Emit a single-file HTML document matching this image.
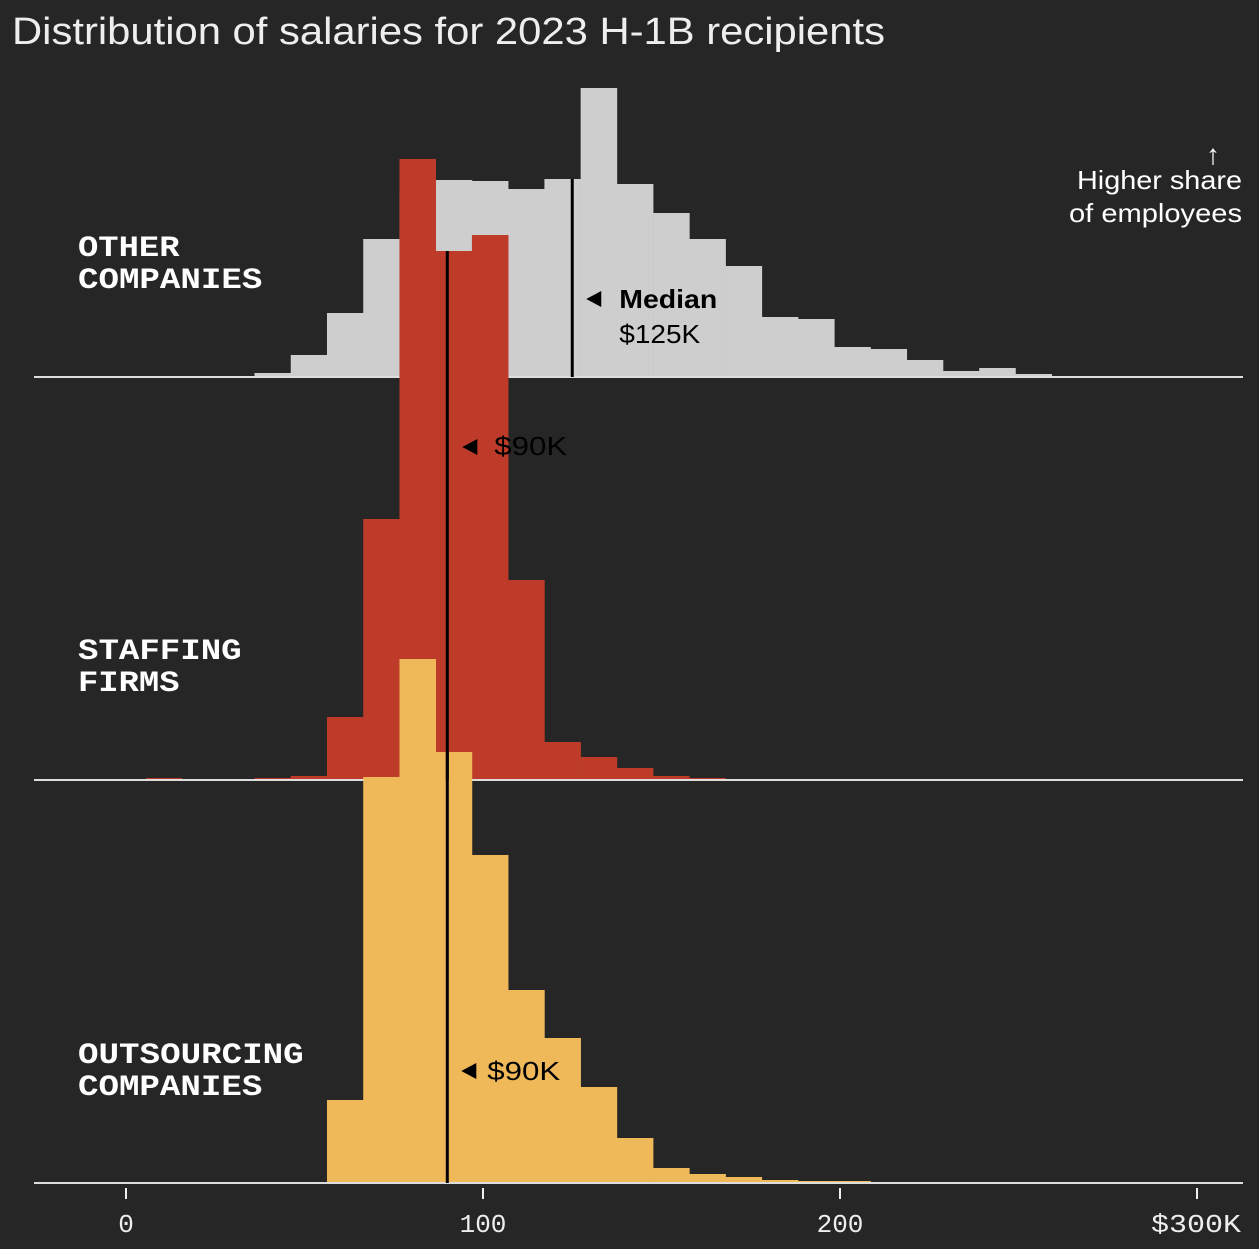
<!DOCTYPE html>
<html><head><meta charset="utf-8"><style>
html,body{margin:0;padding:0;background:#262626;}
svg{display:block;}
</style></head><body>
<svg id="chart" width="1259" height="1249" xmlns="http://www.w3.org/2000/svg" font-family="'Liberation Sans', sans-serif">
<rect width="1259" height="1249" fill="#262626"/>
<text x="12" y="44" font-size="38" fill="#eeeeee" textLength="873" lengthAdjust="spacingAndGlyphs">Distribution of salaries for 2023 H-1B recipients</text>
<g id="layers"></g>
<text x="1213" y="164" font-size="28" fill="#fff" text-anchor="middle">↑</text>
<text x="1242" y="189" font-size="26" fill="#fff" text-anchor="end" textLength="165" lengthAdjust="spacingAndGlyphs">Higher share</text>
<text x="1242" y="222" font-size="26" fill="#fff" text-anchor="end" textLength="173" lengthAdjust="spacingAndGlyphs">of employees</text>
</svg>
<script>
const binStart = -4.6;
const binWidth = 10.15;
const groupNames = ["OTHER|COMPANIES", "STAFFING|FIRMS", "OUTSOURCING|COMPANIES"];
const otherValues = [0,0.1,0,0.1,0.4,2.2,6.4,13.8,18.5,19.7,19.6,18.8,19.8,28.9,19.3,16.4,13.8,11.1,6.0,5.8,3.0,2.8,1.7,0.6,0.9,0.3,0.1,0.1,0.05,0.05];
const staffingValues = [0.1,0.2,0.1,0.1,0.2,0.4,6.3,26.1,62.1,52.9,54.5,20.0,3.8,2.3,1.2,0.4,0.2,0.1,0.1,0,0,0,0,0.1,0,0,0,0,0,0];
const outsourcingValues = [0,0.1,0,0,0,0,8.3,40.6,52.4,43.1,32.8,19.3,14.5,9.6,4.5,1.5,0.9,0.6,0.3,0.2,0.2,0.1,0,0,0,0,0,0,0,0];
const medians = [125, 90, 90];
const medianLabels = ["$125K", "$90K", "$90K"];
const tickValues = [0, 100, 200, 300];
const tickLabels = ["0", "100", "200", "$300K"];

const NS = "http://www.w3.org/2000/svg";
const x = v => 126 + v * 3.57;
const yScale = v => v * 10;
const baselines = [377, 780, 1183];
const colors = ["#cecece", "#bd3b28", "#efb95a"];
const series = [otherValues, staffingValues, outsourcingValues];
const layers = document.getElementById("layers");
function mk(tag, attrs, parent) {
  const e = document.createElementNS(NS, tag);
  for (const k in attrs) e.setAttribute(k, attrs[k]);
  (parent || layers).appendChild(e);
  return e;
}
const medianGroup = document.createElementNS(NS, "g");
series.forEach((vals, si) => {
  const base = baselines[si];
  const g = mk("g", {});
  
  
  vals.forEach((v, i) => {
    const h = yScale(v);
    if (h <= 0) return;
    const x0 = x(binStart + i * binWidth), x1 = x(binStart + (i + 1) * binWidth);
    const r = mk("rect", {x: x0, y: base - h, width: x1 - x0 + 0.3, height: h, fill: colors[si]}, g);
    
    
  });
  const ln = mk("line", {x1: 34, x2: 1243, y1: base, y2: base, stroke: "#dddddd", "stroke-width": 2});
  
  
  const m = medians[si];
  const bi = Math.floor((m - binStart) / binWidth);
  const top = base - yScale(vals[bi]);
  const mx = x(m);
  const ml = mk("line", {x1: mx, x2: mx, y1: top, y2: base, stroke: "#000", "stroke-width": 3}, medianGroup);
  
  
  const parts = groupNames[si].split('|');
  const lblY = [256, 659, 1063][si];
  parts.forEach((p, pi) => {
    const t = mk("text", {x: 78, y: lblY + pi * 32, "font-size": 30, "font-weight": "bold", "font-family": "'Liberation Mono', monospace", fill: "#fff", textLength: p.length * 20.7 - 2, lengthAdjust: "spacingAndGlyphs"}, medianGroup);
    t.textContent = p;
    
    
  });
});
layers.appendChild(medianGroup);
function tri(cx, cy) {
  const p = mk("polygon", {points: `${cx - 8},${cy} ${cx + 7},${cy - 8} ${cx + 7},${cy + 8}`, fill: "#000"});
  
  
}
tri(x(medians[0]) + 22, 299);
let t = mk("text", {x: x(medians[0]) + 47, y: 308, "font-size": 26, "font-weight": "bold", fill: "#000", textLength: 98, lengthAdjust: "spacingAndGlyphs"});
t.textContent = "Median";


t = mk("text", {x: x(medians[0]) + 47, y: 343, "font-size": 26, fill: "#000", textLength: 81, lengthAdjust: "spacingAndGlyphs"});
t.textContent = medianLabels[0];


tri(x(medians[1]) + 23, 447);
t = mk("text", {x: x(medians[1]) + 47, y: 455, "font-size": 26, fill: "#000", textLength: 73, lengthAdjust: "spacingAndGlyphs"});
t.textContent = medianLabels[1];


tri(x(medians[2]) + 22, 1071);
t = mk("text", {x: x(medians[2]) + 40, y: 1080, "font-size": 26, fill: "#000", textLength: 73, lengthAdjust: "spacingAndGlyphs"});
t.textContent = medianLabels[2];


tickValues.forEach((v, i) => {
  const tk = mk("line", {x1: x(v), x2: x(v), y1: 1188, y2: 1199, stroke: "#eee", "stroke-width": 2});
  
  
  const last = i === tickValues.length - 1;
  const attrs = {x: last ? 1241 : x(v), y: 1232, "font-size": 26, fill: "#eee", "font-family": "'Liberation Mono', monospace", "text-anchor": last ? "end" : "middle"};
  if (last) { attrs.textLength = 90; attrs.lengthAdjust = "spacingAndGlyphs"; }
  const tl = mk("text", attrs);
  tl.textContent = tickLabels[i];
  
  
});
</script>
</body></html>
